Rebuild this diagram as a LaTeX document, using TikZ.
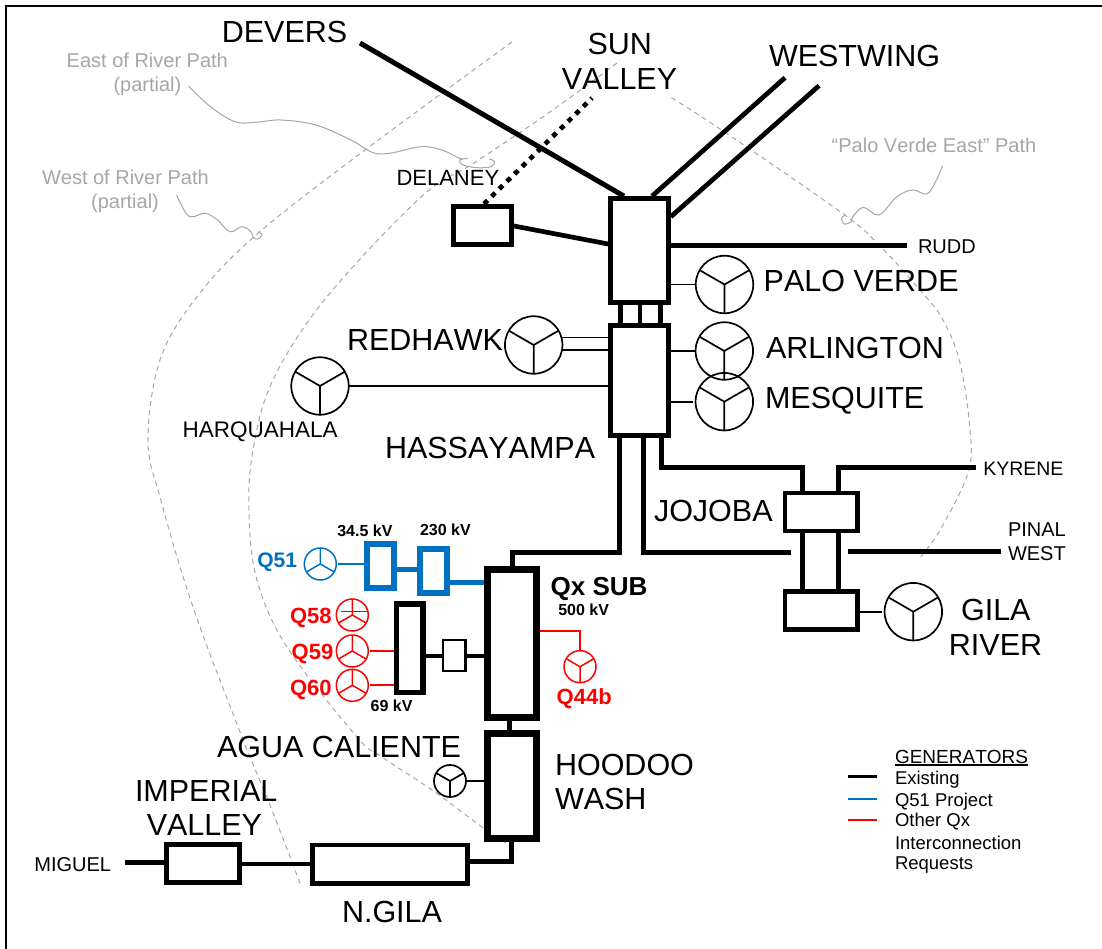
\documentclass[tikz,border=0pt]{standalone}
\usepackage{fontspec}
\setmainfont[Kerning=Off]{Liberation Sans}
\definecolor{qblue}{HTML}{0070C0}
\definecolor{qred}{HTML}{FF0000}
\definecolor{pathgray}{HTML}{A6A6A6}
\tikzset{
  wire/.style={line width=#1,line cap=butt,line join=miter},
  busbox/.style={draw,rectangle,inner sep=0pt,fill=none,line width=#1},
  dashpath/.style={pathgray,line width=1pt,dash pattern=on 5pt off 4pt},
  callout/.style={pathgray,line width=1pt},
  gencircle/.style={draw,circle,inner sep=0pt,outer sep=0pt},
  feeder/.style={line width=1.6pt,line cap=butt}
}
\newcommand{\tlab}[7]{\node[inner sep=0pt,outer sep=0pt,anchor=#1,text=#6,font=\fontsize{#5}{#5}\selectfont] (#2) at (#3,#4) {#7};}
\newcommand{\bbox}[7]{\node[busbox=#6,draw=#7,minimum width=#4 pt,minimum height=#5 pt] (#1) at (#2,#3) {};}
\newcommand{\genY}[5]{\node[gencircle,draw=#5,line width=#4,minimum size=#3 pt] (#1) at (#2) {};
  \draw[#5,line width=#4] (#1.150) -- (#1.center) -- (#1.30) (#1.center) -- (#1.south);}
\newcommand{\genI}[5]{\node[gencircle,draw=#5,line width=#4,minimum size=#3 pt] (#1) at (#2) {};
  \draw[#5,line width=#4] (#1.210) -- (#1.center) -- (#1.330) (#1.center) -- (#1.north);}
\begin{document}
\begin{tikzpicture}[x=1pt,y=-1pt]
\useasboundingbox (0,0) rectangle (1102,949);
% frame
\coordinate (ftr) at (1102,5.7);
\coordinate (ftl) at (6.2,5.7);
\coordinate (fbl) at (6.2,949);
\draw[wire=2pt] (ftr) -- (ftl) -- (fbl);
% gray dashed paths
\draw[dashpath] plot[smooth,tension=0.6] coordinates {(512,42) (365,150) (256,235) (196,298) (160,360) (148,440) (160,497) (193,607) (242,737) (270,805) (300.7,885)};
\draw[dashpath] plot[smooth,tension=0.6] coordinates {(617,63) (550,112) (474,163) (421,197) (326,298) (273,380) (253,450) (249,513) (257,580) (287,647) (357,737) (382,757) (435,792) (482,827) (517,850)};
\draw[dashpath] plot[smooth,tension=0.6] coordinates {(671.5,97.7) (726,133) (842,213) (879,245) (920,290) (943,320) (960,363) (970,430) (968,473) (940,530) (918,560)};
% callouts
\draw[callout] plot[smooth,tension=0.6] coordinates {(188.4,86) (210.5,106.7) (235,121.7) (256,122.3) (280.7,120) (315.8,125) (350.9,140) (372,152.3) (389.5,153.3) (421,146.7) (442,150) (459.6,158.3) (467.7,158.3) (459.6,160) (463,165) (477,167.7) (491,166.7) (494.7,161.7) (489.5,159)};
\draw[callout] plot[smooth,tension=0.6] coordinates {(176.5,195) (186,213.3) (193,216.7) (205.3,213.3) (217.5,220) (229.8,231.7) (242,226.7) (250.9,231.7) (253.3,237.3) (257.9,239) (262,235) (258,231.7)};
\draw[callout] plot[smooth,tension=0.6] coordinates {(942.6,165.7) (935.6,181.7) (926.8,194) (912.7,190) (896.8,196.7) (879.2,215) (863.4,207.3) (852.8,216.7) (851,221.7) (844,224) (841.5,218.3) (845.8,215)};
% boxes
\bbox{pv}{639.5}{250.5}{58}{104}{4.7pt}{black}
\bbox{hass}{639.5}{380.5}{58}{110}{4.7pt}{black}
\bbox{qx}{512}{643.3}{49}{147.7}{7pt}{black}
\bbox{hood}{512}{785.8}{49}{104.6}{7pt}{black}
\bbox{ngila}{389.7}{864.2}{155}{38.5}{4.7pt}{black}
\bbox{imp}{203}{863.3}{73}{38.5}{5pt}{black}
\bbox{del}{482.5}{225.7}{58}{38.5}{5pt}{black}
\bbox{jo}{821.3}{512}{72.7}{38}{4.7pt}{black}
\bbox{gb}{821.3}{610.5}{72.7}{38.4}{4.7pt}{black}
\bbox{b345}{380.8}{566}{27}{44}{6pt}{qblue}
\bbox{b230}{433.7}{570.7}{26.7}{44}{6pt}{qblue}
\bbox{b69}{409.5}{648.3}{26.4}{88.7}{5.6pt}{black}
\bbox{bsm}{454.2}{655.5}{22.5}{31.1}{2.5pt}{black}
% free ends
\coordinate (devers) at (360,43);
\coordinate (sv) at (592,98);
\coordinate (wa) at (785,77.7);
\coordinate (wb) at (819,85.7);
\coordinate (ruddend) at (907.4,246);
\coordinate (kyend) at (975.7,467.7);
\coordinate (piw) at (791,552.3);
\coordinate (pie) at (848.3,551.7);
\coordinate (pieend) at (1000.7,551.7);
\coordinate (mig) at (124.5,862.7);
% heavy lines
\draw[wire=5pt] (devers) -- (pv.north -| 624,0);
\draw[wire=4.7pt] (wa) -- (pv.north -| 652,0);
\draw[wire=4.7pt] (wb) -- (pv.east |- 0,216.7);
\draw[wire=4.7pt,dash pattern=on 5pt off 5.7pt] (del.north -| 484,0) -- (sv);
\draw[wire=4.7pt] (del.east |- 0,226) -- (pv.west |- 0,244);
\draw[wire=5pt] (pv.east |- ruddend) -- (ruddend);
\draw[wire=4.5pt] (pv.south -| 620.7,0) -- (hass.north -| 620.7,0);
\draw[wire=4.5pt] (pv.south -| 640,0) -- (hass.north -| 640,0);
\draw[wire=4.5pt] (pv.south -| 660.7,0) -- (hass.north -| 660.7,0);
\draw[wire=5pt] (qx.north -| 512.3,0) -- (512.3,552.3) -- (619,552.3) -- (hass.south -| 619,0);
\draw[wire=4.7pt] (hass.south -| 643.3,0) -- (643.3,552.3) -- (piw);
\draw[wire=4.7pt] (hass.south -| 661.7,0) -- (661.7,467.7) -- (802.5,467.7) -- (jo.north -| 802.5,0);
\draw[wire=4.7pt] (jo.north -| 838.5,0) -- (838.5,467.7) -- (kyend);
\draw[wire=4.5pt] (jo.south -| 802.7,0) -- (gb.north -| 802.7,0);
\draw[wire=4.5pt] (jo.south -| 838.7,0) -- (gb.north -| 838.7,0);
\draw[wire=4.7pt] (pie) -- (pieend);
\draw[wire=5pt] (qx.south -| 509.3,0) -- (hood.north -| 509.3,0);
\draw[wire=5pt] (hood.south -| 511.8,0) -- (511.8,861.5) -- (ngila.east |- 0,861.5);
\draw[wire=4.7pt] (imp.east |- 0,864) -- (ngila.west |- 0,864);
\draw[wire=5pt] (mig) -- (imp.west |- mig);
% blue and black feeders between boxes
\draw[qblue,wire=5pt] (b345.east |- 0,569) -- (b230.west |- 0,569);
\draw[qblue,wire=5pt] (b230.east |- 0,582) -- (qx.west |- 0,582);
\draw[wire=4pt] (b69.east |- 0,655.7) -- (bsm.west |- 0,655.7);
\draw[wire=4pt] (bsm.east |- 0,655.7) -- (qx.west |- 0,655.7);
% generators
\genY{gpv}{724.5,284.5}{57.5}{1.7pt}{black}
\genY{gar}{724.3,351}{57.5}{1.7pt}{black}
\genY{gme}{724.3,401.7}{57.5}{1.7pt}{black}
\genY{grh}{533.7,345}{57.5}{1.7pt}{black}
\genY{gha}{320,386}{57.5}{1.7pt}{black}
\genY{ggr}{913.3,611.7}{57.5}{1.7pt}{black}
\genY{gag}{450,781}{32}{1.7pt}{black}
\genY{g44}{580,666.7}{32}{1.5pt}{qred}
\genI{g51}{320.3,564}{32}{1.5pt}{qblue}
\genI{g58}{352.3,615}{32}{1.5pt}{qred}
\genI{g59}{352.3,651}{32}{1.5pt}{qred}
\genI{g60}{352.3,685.3}{32}{1.5pt}{qred}
\draw[qred,line width=1.5pt] ([shift={(-11,-3.5)}]g58.center) -- ([shift={(15.5,-3.5)}]g58.center);
\draw[feeder] (pv.east |- gpv.west) -- (gpv.west);
\draw[feeder] (hass.east |- gar.west) -- (gar.west);
\draw[feeder,shorten >=3pt] (hass.east |- gme.west) -- (gme.west);
\draw[feeder] (grh.15) -- (hass.west |- grh.15);
\draw[feeder] (grh.-10) -- (hass.west |- grh.-10);
\draw[feeder] (gha.east) -- (hass.west |- gha.east);
\draw[feeder,shorten >=2.5pt] (gb.east |- ggr.west) -- (ggr.west);
\draw[feeder] (gag.east) -- (hood.west |- gag.east);
\draw[qblue,wire=2pt,shorten <=2pt] (g51.east) -- (b345.west |- g51.east);
\draw[qred,wire=2pt,shorten <=2pt] (g59.east) -- (b69.west |- g59.east);
\draw[qred,wire=2pt,shorten <=2pt] (g60.east) -- (b69.west |- g60.east);
\draw[qred,wire=2pt] (qx.east |- 0,631.3) -- (580,631.3) -- (g44.north);
% labels
\tlab{base west}{tdev}{221.8}{42.3}{30.5}{black}{DEVERS}
\tlab{base}{tsun}{619.7}{55}{30.5}{black}{SUN}
\tlab{base}{tval}{619.5}{90}{30.5}{black}{VALLEY}
\tlab{base west}{twes}{769}{66.7}{30.5}{black}{WESTWING}
\tlab{base west}{tdel}{396.5}{186}{22}{black}{DELANEY}
\tlab{base west}{teor}{66.7}{67.7}{20}{pathgray}{East of River Path}
\tlab{base}{teop}{147.4}{91.7}{20}{pathgray}{(partial)}
\tlab{base west}{twor}{42}{185}{20}{pathgray}{West of River Path}
\tlab{base}{twop}{125}{209}{20}{pathgray}{(partial)}
\tlab{base}{tpve}{934}{152.7}{20}{pathgray}{“Palo Verde East” Path}
\tlab{base west}{trud}{918}{254}{20}{black}{RUDD}
\tlab{base west}{tpv}{763.7}{291.7}{30.5}{black}{PALO VERDE}
\tlab{base west}{tarl}{766}{358.5}{30.5}{black}{ARLINGTON}
\tlab{base west}{tmes}{765}{408}{30.5}{black}{MESQUITE}
\tlab{base west}{tred}{347}{350}{30.5}{black}{REDHAWK}
\tlab{base west}{thar}{182.7}{437.7}{22.5}{black}{HARQUAHALA}
\tlab{base west}{thas}{385}{458}{30.5}{black}{HASSAYAMPA}
\tlab{base west}{tjoj}{654}{521.7}{30.5}{black}{JOJOBA}
\tlab{base west}{tkyr}{983.3}{475}{19.5}{black}{KYRENE}
\tlab{base west}{tpin}{1008}{536}{20}{black}{PINAL}
\tlab{base west}{twst}{1008}{560}{20}{black}{WEST}
\tlab{base}{tgil}{995.8}{620}{30.5}{black}{GILA}
\tlab{base}{triv}{995.5}{655}{30.5}{black}{RIVER}
\tlab{base west}{tq51}{257.3}{567.7}{21}{qblue}{\bfseries Q51}
\tlab{base west}{t345}{337.3}{536.7}{16}{black}{\bfseries 34.5 kV}
\tlab{base west}{t230}{420}{535.7}{16}{black}{\bfseries 230 kV}
\tlab{base west}{tqx}{550.7}{595}{26}{black}{\bfseries Qx SUB}
\tlab{base west}{t500}{558.3}{615.7}{16}{black}{\bfseries 500 kV}
\tlab{base west}{tq58}{290}{623.3}{22}{qred}{\bfseries Q58}
\tlab{base west}{tq59}{291.7}{659}{22}{qred}{\bfseries Q59}
\tlab{base west}{tq60}{290}{695}{22}{qred}{\bfseries Q60}
\tlab{base west}{t69}{370.7}{711.7}{16}{black}{\bfseries 69 kV}
\tlab{base west}{tq44}{556.7}{704}{22}{qred}{\bfseries Q44b}
\tlab{base west}{tagu}{217}{757.3}{30.5}{black}{AGUA CALIENTE}
\tlab{base west}{thoo}{555}{775}{30.5}{black}{HOODOO}
\tlab{base west}{twas}{555}{809}{30.5}{black}{WASH}
\tlab{base west}{timp}{135}{801}{30.5}{black}{IMPERIAL}
\tlab{base}{tiva}{204.4}{835.7}{30.5}{black}{VALLEY}
\tlab{base west}{tmig}{34.4}{871}{20}{black}{MIGUEL}
\tlab{base west}{tngi}{342}{922.3}{30.5}{black}{N.GILA}
% legend
\tlab{base west}{lgen}{895}{763.3}{19}{black}{GENERATORS}
\draw[line width=1.6pt] ([yshift=-1.8pt]lgen.base west) -- ([yshift=-1.8pt]lgen.base east);
\tlab{base west}{lex}{895}{784.3}{18.5}{black}{Existing}
\tlab{base west}{lq5}{895}{806}{18.5}{black}{Q51 Project}
\tlab{base west}{lot}{895}{826.7}{18.5}{black}{Other Qx}
\tlab{base west}{lin}{895}{849.3}{18.5}{black}{Interconnection}
\tlab{base west}{lre}{895}{869.3}{18.5}{black}{Requests}
\coordinate (lka) at (847.7,776.7);
\coordinate (lkb) at (847.7,799);
\coordinate (lkc) at (847.7,820);
\draw[wire=2.5pt] (lka) -- ++(29,0);
\draw[qblue,wire=2.5pt] (lkb) -- ++(29,0);
\draw[qred,wire=2.5pt] (lkc) -- ++(29,0);
\end{tikzpicture}
\end{document}
